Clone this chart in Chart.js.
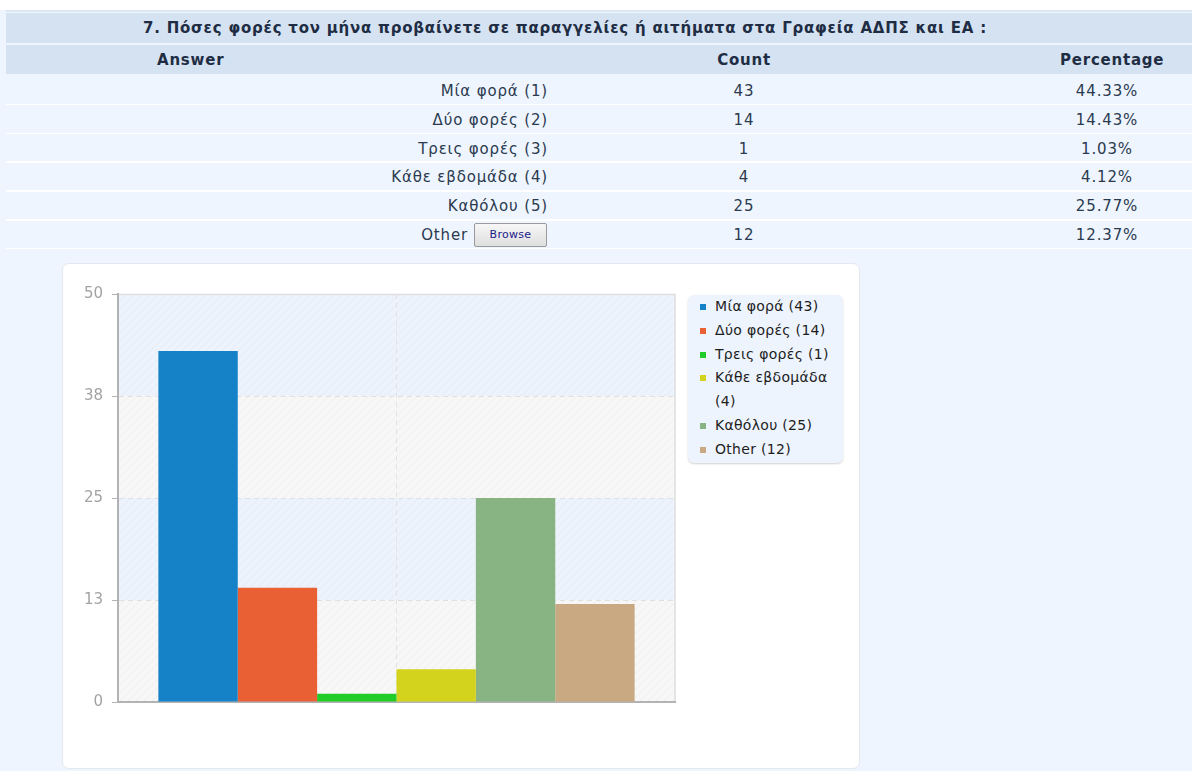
<!DOCTYPE html>
<html lang="el">
<head>
<meta charset="utf-8">
<title>Ερώτηση 7</title>
<script src="https://cdn.jsdelivr.net/npm/chart.js@4/dist/chart.umd.min.js"></script>
<style>
  html, body { margin: 0; padding: 0; }
  body {
    width: 1192px; height: 771px; overflow: hidden; position: relative;
    background: #eef5fe;
    font-family: "DejaVu Sans", Verdana, sans-serif;
    color: #2b3a4f;
  }
  .topwhite { position: absolute; left: 0; top: 0; width: 1192px; height: 10px; background: #ffffff; }
  .band { position: absolute; left: 6px; right: 0; background: #d4e2f2; }
  .sep  { position: absolute; left: 6px; right: 0; height: 1.5px; background: #ffffff; }
  .txt  { position: absolute; white-space: nowrap; font-size: 15px; line-height: 20px; letter-spacing: 0.85px; }
  .bold { font-weight: bold; color: #1f2d44; letter-spacing: 0.78px; }
  .right { text-align: right; }
  .center { text-align: center; }
  .browse {
    position: absolute; left: 474px; top: 223px; width: 73px; height: 24px;
    box-sizing: border-box; border: 1px solid #9a9a9a; border-radius: 2px;
    background: linear-gradient(#f7f7f7, #dedede);
    font-size: 11px; line-height: 22px; text-align: center; color: #1c1c8a; letter-spacing: 0.3px;
  }
  .card {
    position: absolute; left: 62px; top: 263px; width: 798px; height: 506px;
    box-sizing: border-box; background: #ffffff; border: 1px solid #e3e8ee; border-radius: 7px;
  }
  #chartWrap { position: absolute; left: 62px; top: 263px; width: 620px; height: 506px; }
  .legend {
    position: absolute; left: 688px; top: 295px; width: 155px; height: 168px;
    box-sizing: border-box; background: #edf4fd; border-radius: 6px;
    box-shadow: 0 1px 2px rgba(0,0,0,0.18);
    padding: 0; font-family: "DejaVu Sans", Tahoma, sans-serif; font-size: 14px; letter-spacing: 0.3px; color: #1d1d1d;
  }
  .legend .item { position: relative; padding-left: 27px; width: 122px; line-height: 23.8px; }
  .legend .mark { position: absolute; left: 12px; top: 9px; width: 6px; height: 6px; }
</style>
</head>
<body>
<div class="topwhite"></div>
<div id="table"></div>
<div class="card"></div>
<div id="chartWrap"><canvas id="chart"></canvas></div>
<div class="legend" id="legend"></div>

<script>
// Survey question and answers
const question = "7. Πόσες φορές τον μήνα προβαίνετε σε παραγγελίες ή αιτήματα στα Γραφεία ΑΔΠΣ και ΕΑ :";
const headers = ["Answer", "Count", "Percentage"];
const answers = ["Μία φορά", "Δύο φορές", "Τρεις φορές", "Κάθε εβδομάδα", "Καθόλου", "Other"];
const answerCodes = ["(1)", "(2)", "(3)", "(4)", "(5)", ""];
const counts = [43, 14, 1, 4, 25, 12];
const percentages = ["44.33%", "14.43%", "1.03%", "4.12%", "25.77%", "12.37%"];
const barColors = ["#1582c8", "#e86034", "#22cc28", "#d3d31e", "#88b382", "#c8a982"];
const yTicks = [0, 12.5, 25, 37.5, 50];

// ---- results table ----
const table = document.getElementById("table");
function add(html) { table.insertAdjacentHTML("beforeend", html); }

add('<div class="band" style="top:10px;height:2px;background:#dbe6f3"></div>');
add('<div class="band" style="top:13px;height:30px"></div>');
add('<div class="txt bold" style="left:143px;top:18px">' + question + '</div>');
add('<div class="band" style="top:45px;height:29px"></div>');
add('<div class="txt bold" style="left:157px;top:50px">' + headers[0] + '</div>');
add('<div class="txt bold center" style="left:694px;width:100px;top:50px">' + headers[1] + '</div>');
add('<div class="txt bold" style="left:1060px;top:50px">' + headers[2] + '</div>');

const rowTop = 76.5, rowH = 28.8;
answers.forEach((a, i) => {
  const top = rowTop + i * rowH;
  const ty = top + 4.5;
  add('<div class="sep" style="top:' + (top + rowH - 1.5) + 'px"></div>');
  if (answerCodes[i]) {
    add('<div class="txt right" style="left:248px;width:300px;top:' + ty + 'px">' + a + ' ' + answerCodes[i] + '</div>');
  } else {
    add('<div class="txt right" style="left:168px;width:300px;top:' + ty + 'px">' + a + '</div>');
    add('<div class="browse">Browse</div>');
  }
  add('<div class="txt center" style="left:694px;width:100px;top:' + ty + 'px">' + counts[i] + '</div>');
  add('<div class="txt center" style="left:1057px;width:100px;top:' + ty + 'px">' + percentages[i] + '</div>');
});

// ---- legend ----
const legend = document.getElementById("legend");
legend.innerHTML = answers.map((a, i) =>
  '<div class="item"><span class="mark" style="background:' + barColors[i] + '"></span>' +
  a + ' (' + counts[i] + ')</div>').join("");

// ---- bar chart ----
function hatch(base) {
  const c = document.createElement("canvas");
  c.width = 8; c.height = 8;
  const g = c.getContext("2d");
  g.fillStyle = base; g.fillRect(0, 0, 8, 8);
  g.strokeStyle = "rgba(0,0,0,0.03)"; g.lineWidth = 1;
  g.beginPath();
  g.moveTo(0, 8); g.lineTo(8, 0);
  g.moveTo(-4, 4); g.lineTo(4, -4);
  g.moveTo(4, 12); g.lineTo(12, 4);
  g.stroke();
  return c;
}

const bandsPlugin = {
  id: "bands",
  beforeDraw(chart) {
    const { ctx, chartArea: a, scales: { y } } = chart;
    const blue = ctx.createPattern(hatch("#ecf3fc"), "repeat");
    const grey = ctx.createPattern(hatch("#f7f7f7"), "repeat");
    ctx.save();
    for (let k = 0; k < yTicks.length - 1; k++) {
      const y0 = y.getPixelForValue(yTicks[k]);
      const y1 = y.getPixelForValue(yTicks[k + 1]);
      ctx.fillStyle = (k % 2 === 1) ? blue : grey;
      ctx.fillRect(a.left, y1, a.right - a.left, y0 - y1);
    }
    // light frame on top and right
    ctx.strokeStyle = "#dedede"; ctx.lineWidth = 1.5;
    ctx.beginPath();
    ctx.moveTo(a.left, a.top + 0.5); ctx.lineTo(a.right, a.top + 0.5); ctx.lineTo(a.right, a.bottom);
    ctx.stroke();
    ctx.restore();
  }
};

new Chart(document.getElementById("chart"), {
  type: "bar",
  data: {
    labels: [""],
    datasets: answers.map((a, i) => ({
      label: a + " (" + counts[i] + ")",
      data: [counts[i]],
      backgroundColor: barColors[i],
      borderWidth: 0,
      barPercentage: 1,
      categoryPercentage: 0.855
    }))
  },
  options: {
    responsive: true,
    maintainAspectRatio: false,
    animation: false,
    layout: { padding: { top: 31, bottom: 67, right: 7, left: 0 } },
    plugins: { legend: { display: false }, tooltip: { enabled: false } },
    scales: {
      x: {
        ticks: { display: false },
        grid: { offset: false, color: "#e2e2e2", drawTicks: false },
        border: { color: "#b3b3b3", width: 2, dash: [5, 4] },
        afterFit(s) { s.height = 0; }
      },
      y: {
        min: 0, max: 50,
        afterBuildTicks(s) { s.ticks = yTicks.map(v => ({ value: v })); },
        ticks: {
          color: "#a3a3a3", padding: 9,
          font: { family: "'DejaVu Sans', Tahoma, sans-serif", size: 15 },
          callback: v => String(Math.round(v))
        },
        grid: {
          color: ctx => (ctx.tick && (ctx.tick.value === 0 || ctx.tick.value === 50)) ? "rgba(0,0,0,0)" : "#e0e0e0",
          tickColor: "#b3b3b3", tickLength: 6, tickBorderDash: []
        },
        border: { color: "#b3b3b3", width: 2, dash: [5, 4] },
        afterFit(s) { s.width = 56; }
      }
    }
  },
  plugins: [bandsPlugin]
});
</script>
</body>
</html>
